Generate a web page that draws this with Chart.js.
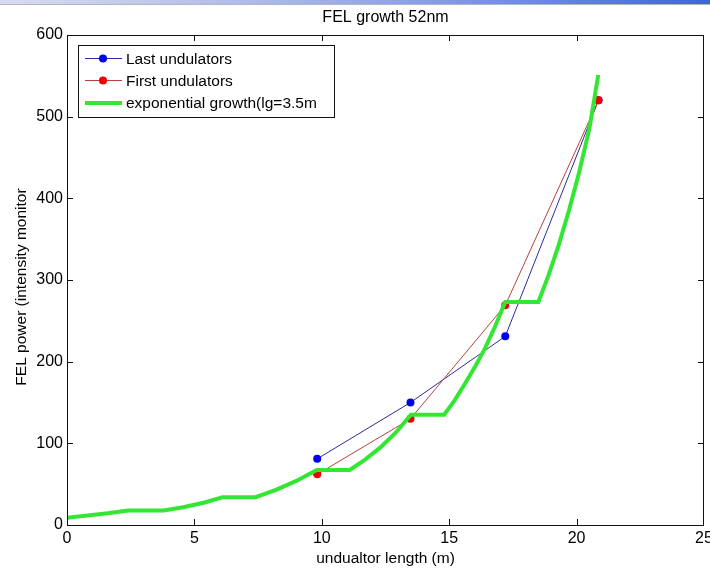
<!DOCTYPE html>
<html>
<head>
<meta charset="utf-8">
<script src="https://cdn.jsdelivr.net/npm/chart.js@4.4.1/dist/chart.umd.min.js"></script>
<style>
  html, body { margin: 0; padding: 0; background: #fff; }
  #wrap { position: relative; width: 710px; height: 569px; overflow: hidden; }
  #band { position: absolute; left: 0; top: 0; width: 710px; height: 4px;
          background: linear-gradient(to right, #d8dbef 0%, #a9b6ea 40%, #6d8ae3 75%, #3d66dc 100%);
          border-bottom: 1px solid #b4b6c2; }
  canvas { display: block; }
</style>
</head>
<body>
<div id="wrap">
  <canvas id="c" width="710" height="569"></canvas>
  <div id="band"></div>
</div>
<script>
// Axis ticks
const xTicks = [0, 5, 10, 15, 20, 25];
const yTicks = [0, 100, 200, 300, 400, 500, 600];

// Measured power, last undulators
const lastUndX = [9.82, 13.48, 17.2, 20.86];
const lastUndY = [81, 150, 231, 520];

// Measured power, first undulators
const firstUndX = [9.82, 13.48, 17.2, 20.86];
const firstUndY = [62, 130, 269, 520];

// Exponential growth curve (gain length 3.5 m), flat across undulator breaks
const expX = [0, 0.8, 1.6, 2.4, 3.8, 4.6, 5.4, 6.1, 7.4, 8.2, 9.0, 9.8, 11.1,
              11.7, 12.3, 12.9, 13.5, 14.8, 15.2, 15.6, 16.0, 16.4, 16.8, 17.2,
              18.5, 18.9, 19.3, 19.7, 20.1, 20.5, 20.85];
const expY = [9, 11.5, 14.3, 17.8, 17.8, 22, 27.5, 34, 34, 43, 54, 67.5, 67.5,
              80, 95, 113, 135, 135, 152, 172, 193, 216, 243, 273,
              273, 306, 343, 385, 432, 485, 551];

const labels = ['Last undulators', 'First undulators', 'exponential growth(lg=3.5m'];
const FONT = '"Liberation Sans", Arial, Helvetica, sans-serif';

const pts = (xs, ys) => xs.map((x, i) => ({ x: x, y: ys[i] }));

// Frame, inward tick marks, titles and the in-axes legend box
const decor = {
  id: 'decor',
  afterDatasetsDraw(chart) {
    const { ctx, chartArea: a, scales } = chart;
    const sx = scales.x, sy = scales.y;
    ctx.save();
    ctx.strokeStyle = '#111';
    ctx.lineWidth = 1;
    ctx.strokeRect(Math.round(a.left) + 0.5, Math.round(a.top) + 0.5,
                   Math.round(a.right - a.left) - 1, Math.round(a.bottom - a.top));
    const tl = 6;
    ctx.beginPath();
    xTicks.forEach(v => {
      const px = Math.round(sx.getPixelForValue(v)) + 0.5;
      if (v === xTicks[0] || v === xTicks[xTicks.length - 1]) return;
      ctx.moveTo(px, a.bottom); ctx.lineTo(px, a.bottom - tl);
      ctx.moveTo(px, a.top); ctx.lineTo(px, a.top + tl);
    });
    yTicks.forEach(v => {
      const py = Math.round(sy.getPixelForValue(v)) + 0.5;
      if (v === yTicks[0] || v === yTicks[yTicks.length - 1]) return;
      ctx.moveTo(a.left, py); ctx.lineTo(a.left + tl, py);
      ctx.moveTo(a.right, py); ctx.lineTo(a.right - tl, py);
    });
    ctx.stroke();

    // Titles
    ctx.fillStyle = '#000';
    ctx.textAlign = 'center';
    ctx.textBaseline = 'middle';
    ctx.font = '16px ' + FONT;
    ctx.fillText('FEL growth 52nm', (a.left + a.right) / 2, 18);
    ctx.font = '15.5px ' + FONT;
    ctx.fillText('undualtor length (m)', (a.left + a.right) / 2, 559);
    ctx.save();
    ctx.translate(22, 287);
    ctx.rotate(-Math.PI / 2);
    ctx.fillText('FEL power (intensity monitor', 0, 0);
    ctx.restore();

    // Legend
    const bx = 78.5, by = 45.5, bw = 256, bh = 72;
    ctx.fillStyle = '#fff';
    ctx.fillRect(bx, by, bw, bh);
    ctx.strokeStyle = '#111';
    ctx.strokeRect(bx, by, bw, bh);
    const rows = [58.5, 80.5, 103];
    const ds = chart.data.datasets;
    ctx.font = '15.5px ' + FONT;
    ctx.textAlign = 'left';
    rows.forEach((ry, i) => {
      const d = ds[i];
      ctx.strokeStyle = d.borderColor;
      ctx.lineWidth = d.borderWidth;
      ctx.beginPath();
      ctx.moveTo(85, ry); ctx.lineTo(122, ry);
      ctx.stroke();
      if (d.pointRadius > 0) {
        ctx.fillStyle = d.pointBackgroundColor;
        ctx.beginPath();
        ctx.arc(103, ry, d.pointRadius, 0, Math.PI * 2);
        ctx.fill();
      }
      ctx.fillStyle = '#000';
      ctx.fillText(d.label, 126, ry + 1);
    });
    ctx.restore();
  }
};

new Chart(document.getElementById('c'), {
  type: 'scatter',
  data: {
    datasets: [
      {
        label: labels[0],
        data: pts(lastUndX, lastUndY),
        showLine: true,
        borderColor: '#2a2a9c',
        borderWidth: 1,
        pointRadius: 4,
        pointBackgroundColor: '#0000f0',
        pointBorderWidth: 0,
        order: 2
      },
      {
        label: labels[1],
        data: pts(firstUndX, firstUndY),
        showLine: true,
        borderColor: '#b84040',
        borderWidth: 1,
        pointRadius: 4,
        pointBackgroundColor: '#f00000',
        pointBorderWidth: 0,
        order: 1
      },
      {
        label: labels[2],
        data: pts(expX, expY),
        showLine: true,
        borderColor: '#33e633',
        borderWidth: 4,
        pointRadius: 0,
        pointBackgroundColor: '#33e633',
        borderJoinStyle: 'miter',
        order: 0
      }
    ]
  },
  options: {
    responsive: false,
    animation: false,
    devicePixelRatio: 1,
    layout: { padding: { top: 35, right: 6, left: 0, bottom: 0 } },
    plugins: {
      legend: { display: false },
      title: { display: false },
      tooltip: { enabled: false }
    },
    scales: {
      x: {
        type: 'linear',
        min: 0, max: 25,
        afterBuildTicks: s => { s.ticks = xTicks.map(v => ({ value: v })); },
        afterFit: s => { s.height = 44; s.paddingLeft = 0; s.paddingRight = 0; },
        grid: { display: false, drawTicks: false },
        border: { display: false },
        ticks: { color: '#000', font: { family: FONT, size: 16 }, padding: 4, maxRotation: 0 }
      },
      y: {
        type: 'linear',
        min: 0, max: 600,
        afterBuildTicks: s => { s.ticks = yTicks.map(v => ({ value: v })); },
        afterFit: s => { s.width = 67; s.paddingTop = 0; s.paddingBottom = 0; },
        grid: { display: false, drawTicks: false },
        border: { display: false },
        ticks: { color: '#000', font: { family: FONT, size: 16 }, padding: 4 }
      }
    }
  },
  plugins: [decor]
});
</script>
</body>
</html>
